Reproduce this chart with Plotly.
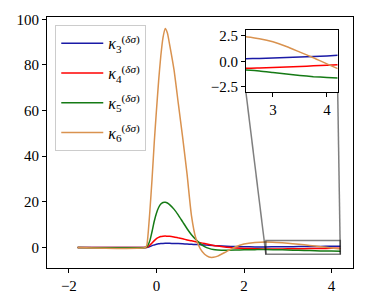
import plotly.graph_objects as go

# ---- data ----
x = [-1.8, -0.25, -0.22, -0.2, -0.15, -0.1, -0.05, 0.0, 0.05, 0.1, 0.15, 0.2, 0.25, 0.3,
     0.4, 0.5, 0.6, 0.7, 0.8, 0.9, 1.0, 1.1, 1.2, 1.3, 1.4, 1.6, 1.8, 2.0, 2.25, 2.5,
     2.75, 3.0, 3.25, 3.5, 3.75, 4.0, 4.2]

kappa3 = [0, 0, 0.03, 0.1, 0.4, 0.8, 1.1, 1.4, 1.6, 1.7, 1.78, 1.8, 1.8, 1.8,
          1.75, 1.7, 1.6, 1.5, 1.4, 1.3, 1.2, 1.1, 0.95, 0.85, 0.75, 0.55, 0.4, 0.3, 0.25, 0.25,
          0.28, 0.32, 0.37, 0.42, 0.47, 0.53, 0.58]

kappa4 = [0, 0, 0.1, 0.3, 1.0, 2.0, 3.0, 3.9, 4.4, 4.8, 4.95, 5.0, 4.95, 4.9,
          4.6, 4.2, 3.8, 3.3, 2.9, 2.5, 2.1, 1.7, 1.3, 0.9, 0.6, 0.1, -0.2, -0.4, -0.55, -0.68,
          -0.65, -0.6, -0.55, -0.5, -0.44, -0.38, -0.33]

kappa5 = [0, 0, 0.3, 0.8, 3.0, 7.0, 11.5, 15.0, 17.5, 19.0, 19.7, 19.8, 19.5, 18.8,
          16.8, 14.2, 11.2, 8.2, 5.6, 3.5, 1.7, 0.4, -0.4, -0.9, -1.1, -1.2, -1.15, -1.05, -0.95, -0.85,
          -0.95, -1.1, -1.25, -1.38, -1.5, -1.58, -1.62]

kappa6 = [0, 0, 1.0, 4.0, 16.0, 30.0, 46.0, 60.0, 73.0, 84.0, 92.0, 96.0, 94.0, 89.0,
          78.0, 63.0, 48.0, 32.0, 14.0, 4.0, -0.5, -3.0, -4.2, -4.3, -3.8, -1.8, 0.2, 1.5, 2.2, 2.4,
          2.2, 1.9, 1.45, 0.9, 0.35, -0.25, -0.72]

series = [
    ("<i>κ</i><sub>3</sub><sup>(<i>δσ</i>)</sup>", kappa3, "#1a1aa6"),
    ("<i>κ</i><sub>4</sub><sup>(<i>δσ</i>)</sup>", kappa4, "#ff0000"),
    ("<i>κ</i><sub>5</sub><sup>(<i>δσ</i>)</sup>", kappa5, "#157a15"),
    ("<i>κ</i><sub>6</sub><sup>(<i>δσ</i>)</sup>", kappa6, "#d9924f"),
]

main_xrange = [-2.5, 4.49]
main_yrange = [-9, 101]
inset_xrange = [2.5, 4.2]
inset_yrange = [-3.0, 3.1]

FONT = "Liberation Serif, DejaVu Serif, serif"

fig = go.Figure()
for i, (name, y, c) in enumerate(series):
    fig.add_trace(go.Scatter(x=x, y=y, mode="lines", name=name, legendgroup=f"g{i}",
                             line=dict(color=c, width=1.5, shape="spline", smoothing=0.6),
                             xaxis="x", yaxis="y"))
for name, y, c in series:
    fig.add_trace(go.Scatter(x=x, y=y, mode="lines", name=name, showlegend=False,
                             line=dict(color=c, width=1.5, shape="spline", smoothing=0.6),
                             xaxis="x2", yaxis="y2"))

axis_common = dict(showgrid=False, zeroline=False, showline=True, linecolor="black",
                   linewidth=1, mirror=True, ticks="outside", ticklen=4, tickwidth=1,
                   tickcolor="black", tickfont=dict(family=FONT, size=15, color="black"))

ins_dom_x = [0.650, 0.950]
ins_dom_y = [0.701, 0.950]

fig.update_layout(
    width=366, height=307,
    margin=dict(l=47, r=12, t=15, b=39),
    paper_bgcolor="white", plot_bgcolor="white",
    xaxis=dict(range=main_xrange, tickvals=[-2, 0, 2, 4], domain=[0, 1], **axis_common),
    yaxis=dict(range=main_yrange, tickvals=[0, 20, 40, 60, 80, 100], domain=[0, 1], **axis_common),
    xaxis2=dict(range=inset_xrange, tickvals=[3, 4], domain=ins_dom_x, anchor="y2", **axis_common),
    yaxis2=dict(range=inset_yrange, tickvals=[-2.5, 0, 2.5], tickformat=".1f",
                domain=ins_dom_y, anchor="x2", **axis_common),
    showlegend=True,
    legend=dict(x=0.027, y=0.967, xanchor="left", yanchor="top",
                bgcolor="rgba(255,255,255,0.8)", bordercolor="#cccccc", borderwidth=1,
                font=dict(family=FONT, size=16, color="black"), itemwidth=42,
                tracegroupgap=6),
)

# indicated region + connector lines (matplotlib mark_inset style)
def to_paper(xv, yv):
    px = (xv - main_xrange[0]) / (main_xrange[1] - main_xrange[0])
    py = (yv - main_yrange[0]) / (main_yrange[1] - main_yrange[0])
    return px, py

gray = dict(color="rgba(0,0,0,0.5)", width=1.5)
fig.add_shape(type="rect", xref="x", yref="y", x0=inset_xrange[0], x1=inset_xrange[1],
              y0=-3.0, y1=3.0, line=gray, fillcolor="rgba(0,0,0,0)")
lx, ly = to_paper(inset_xrange[0], -3.0)
rx, ry = to_paper(inset_xrange[1], -3.0)
fig.add_shape(type="line", xref="paper", yref="paper", x0=lx, y0=ly,
              x1=ins_dom_x[0], y1=ins_dom_y[0], line=gray)
fig.add_shape(type="line", xref="paper", yref="paper", x0=rx, y0=ry,
              x1=ins_dom_x[1], y1=ins_dom_y[0], line=gray)

fig.write_html("out.html", config={"displayModeBar": False},
               post_script="document.body.style.margin='0';")
